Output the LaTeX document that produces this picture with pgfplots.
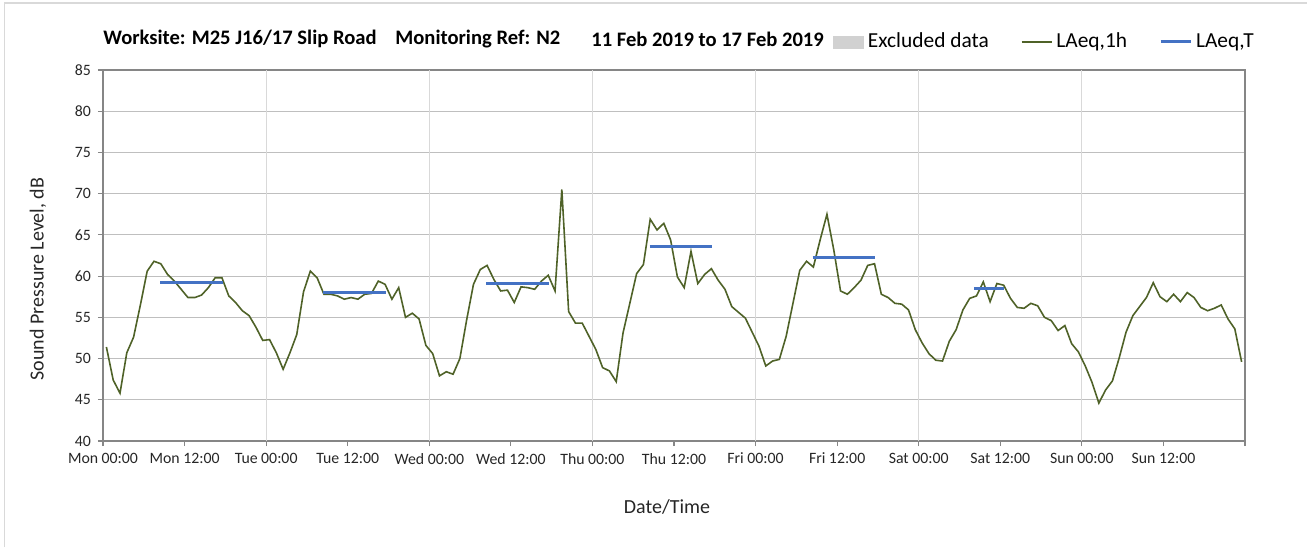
\documentclass[border=0pt]{standalone}
\usepackage{fontspec}
\setmainfont{Carlito}
\usepackage{pgfplots}
\pgfplotsset{compat=1.18}
\definecolor{laeqgreen}{RGB}{79,98,40}
\definecolor{laeqblue}{RGB}{68,114,196}
\definecolor{gridgray}{RGB}{191,191,191}
\definecolor{vgridgray}{RGB}{217,217,217}
\definecolor{axisgray}{RGB}{134,134,134}

\begin{document}
\begin{tikzpicture}[x=0.5pt,y=0.5pt]
\path[use as bounding box] (0,0) rectangle (1307,547);
\draw[black!15, line width=0.6pt] (4.5,0) -- (4.5,544) -- (1307,544);
\begin{axis}[
  at={(51.5pt,53pt)}, anchor=south west,
  scale only axis, width=571pt, height=185.5pt,
  xmin=0, xmax=168, ymin=40, ymax=85,
  axis line style={axisgray, line width=0.6pt},
  ytick={40,45,...,85},
  ymajorgrids, grid style={gridgray, line width=0.6pt},
  xtick={0,12,...,168},
  xticklabels={Mon 00:00, Mon 12:00, Tue 00:00, Tue 12:00, Wed 00:00, Wed 12:00, Thu 00:00, Thu 12:00, Fri 00:00, Fri 12:00, Sat 00:00, Sat 12:00, Sun 00:00, Sun 12:00, {}},
  extra x ticks={24,48,72,96,120,144},
  extra x tick labels={},
  extra x tick style={grid=major, major grid style={draw=vgridgray, line width=0.6pt}},
  tick align=outside, major tick length=2.5pt,
  tick style={axisgray, line width=0.6pt},
  xtick pos=left, ytick pos=left,
  ticklabel style={font=\fontsize{7.9}{9}\selectfont, text=black!85},
  /pgf/number format/assume math mode=true,
  unbounded coords=jump,
  legend columns=3,
  legend style={draw=none, fill=none, inner sep=0pt,
    at={(axis description cs:0.639,1.0755)}, anchor=west,
    font=\fontsize{10.7}{12}\selectfont,
    /tikz/every even column/.append style={column sep=14pt},
    cells={anchor=west}},
]
\addlegendimage{legend image code/.code={\fill[black!18] (0pt,-3pt) rectangle (15pt,3pt);}}
\addlegendentry{Excluded data}

\addplot[laeqgreen, line width=0.8pt,
  legend image code/.code={\draw[laeqgreen, line width=0.8pt] (0pt,0pt) -- (15pt,0pt);}]
coordinates {
(0.5,51.4) (1.5,47.4) (2.5,45.8) (3.5,50.7) (4.5,52.6) (5.5,56.5) (6.5,60.6) (7.5,61.8)
(8.5,61.5) (9.5,60.2) (10.5,59.4) (11.5,58.4) (12.5,57.4) (13.5,57.4) (14.5,57.7) (15.5,58.6)
(16.5,59.8) (17.5,59.8) (18.5,57.6) (19.5,56.8) (20.5,55.8) (21.5,55.2) (22.5,53.8) (23.5,52.2)
(24.5,52.3) (25.5,50.7) (26.5,48.7) (27.5,50.7) (28.5,52.9) (29.5,58.1) (30.5,60.6) (31.5,59.8)
(32.5,57.8) (33.5,57.8) (34.5,57.6) (35.5,57.2) (36.5,57.4) (37.5,57.2) (38.5,57.8) (39.5,57.9)
(40.5,59.4) (41.5,59.0) (42.5,57.2) (43.5,58.6) (44.5,55.0) (45.5,55.5) (46.5,54.8) (47.5,51.6)
(48.5,50.6) (49.5,47.9) (50.5,48.4) (51.5,48.1) (52.5,50.0) (53.5,54.7) (54.5,59.0) (55.5,60.8)
(56.5,61.3) (57.5,59.6) (58.5,58.2) (59.5,58.3) (60.5,56.8) (61.5,58.7) (62.5,58.6) (63.5,58.4)
(64.5,59.4) (65.5,60.1) (66.5,58.2) (67.5,70.5) (68.5,55.7) (69.5,54.3) (70.5,54.3) (71.5,52.7)
(72.5,51.1) (73.5,48.9) (74.5,48.5) (75.5,47.2) (76.5,53.1) (77.5,56.7) (78.5,60.3) (79.5,61.4)
(80.5,66.9) (81.5,65.6) (82.5,66.4) (83.5,64.4) (84.5,59.9) (85.5,58.6) (86.5,63.0) (87.5,59.1)
(88.5,60.2) (89.5,60.9) (90.5,59.5) (91.5,58.4) (92.5,56.3) (93.5,55.6) (94.5,54.9) (95.5,53.2)
(96.5,51.5) (97.5,49.1) (98.5,49.7) (99.5,49.9) (100.5,52.7) (101.5,56.7) (102.5,60.7) (103.5,61.8)
(104.5,61.1) (105.5,64.4) (106.5,67.5) (107.5,63.2) (108.5,58.2) (109.5,57.8) (110.5,58.6) (111.5,59.5)
(112.5,61.3) (113.5,61.5) (114.5,57.8) (115.5,57.4) (116.5,56.7) (117.5,56.6) (118.5,55.9) (119.5,53.5)
(120.5,51.9) (121.5,50.6) (122.5,49.8) (123.5,49.7) (124.5,52.1) (125.5,53.5) (126.5,55.9) (127.5,57.3)
(128.5,57.6) (129.5,59.3) (130.5,56.9) (131.5,59.1) (132.5,58.9) (133.5,57.3) (134.5,56.2) (135.5,56.1)
(136.5,56.7) (137.5,56.4) (138.5,55.0) (139.5,54.6) (140.5,53.4) (141.5,54.0) (142.5,51.8) (143.5,50.8)
(144.5,49.1) (145.5,47.1) (146.5,44.6) (147.5,46.2) (148.5,47.3) (149.5,50.1) (150.5,53.2) (151.5,55.2)
(152.5,56.3) (153.5,57.4) (154.5,59.2) (155.5,57.5) (156.5,56.9) (157.5,57.8) (158.5,56.9) (159.5,58.0)
(160.5,57.4) (161.5,56.2) (162.5,55.8) (163.5,56.1) (164.5,56.5) (165.5,54.8) (166.5,53.6) (167.5,49.6)
};
\addlegendentry{LAeq,1h}

\addplot[laeqblue, line width=1.5pt,
  legend image code/.code={\draw[laeqblue, line width=1.5pt] (0pt,0pt) -- (15pt,0pt);}]
coordinates {
(8.4,59.2) (17.6,59.2) (20,nan)
(32.4,58.0) (41.6,58.0) (44,nan)
(56.4,59.1) (65.6,59.1) (68,nan)
(80.4,63.6) (89.6,63.6) (92,nan)
(104.4,62.3) (113.6,62.3) (116,nan)
(128.2,58.5) (132.6,58.5)
};
\addlegendentry{LAeq,T}
\end{axis}

\begin{scope}[font=\bfseries\fontsize{10.3}{12}\selectfont]
\node[anchor=west, inner sep=0pt] at (103,508) {Worksite: M25 J16/17 Slip Road};
\node[anchor=west, inner sep=0pt] at (395,508) {Monitoring Ref: N2};
\node[anchor=west, inner sep=0pt] at (591,508) {11 Feb 2019 to 17 Feb 2019};
\end{scope}
\node[rotate=90, font=\fontsize{10}{12}\selectfont, text=black!85] at (38,268) {Sound Pressure Level, dB};
\node[font=\fontsize{10}{12}\selectfont, text=black!85] at (667,40) {Date/Time};
\end{tikzpicture}
\end{document}
